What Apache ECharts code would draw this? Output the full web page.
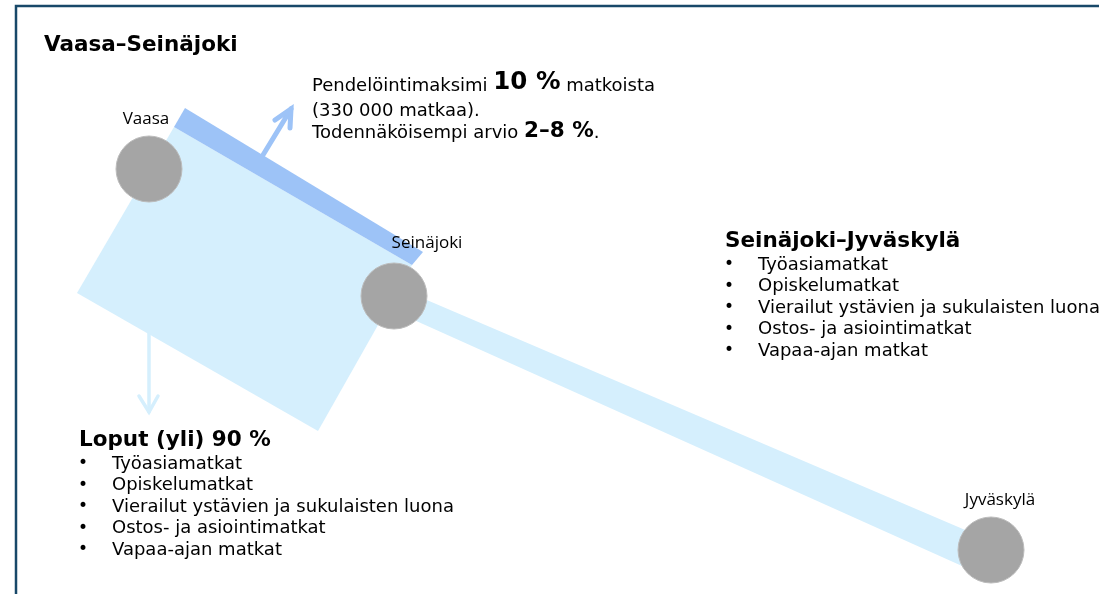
<!DOCTYPE html>
<html>
<head>
<meta charset="utf-8">
<script src="https://cdn.jsdelivr.net/npm/echarts@6/dist/echarts.min.js"></script>
<style>
html,body{margin:0;padding:0;background:#fff;}
#chart{width:1099px;height:594px;}
</style>
</head>
<body>
<div id="chart"></div>
<script>
// ---- data (diagram coordinates in axis units) ----
const cityNames = ['Vaasa', 'Seinäjoki', 'Jyväskylä'];
const cityX = [149, 394, 991];
const cityY = [169, 296, 550];

const catchmentX = [174, 412, 318, 77];
const catchmentY = [127, 265, 431, 293];
const commuteBandX = [185, 423, 412, 174];
const commuteBandY = [108, 252, 265, 127];
const roadX = [394, 991, 991, 394];
const roadY = [286, 541, 579, 311];

const upArrowX = [263, 291];
const upArrowY = [155, 109];
const upHeadX = [275, 291, 290];
const upHeadY = [120, 109, 128];
const downArrowX = [149, 149];
const downArrowY = [333, 412];
const downHeadX = [139, 149, 158];
const downHeadY = [396, 412, 396];

const titleText = 'Vaasa–Seinäjoki';
const noteLines = [
  ['Pendelöintimaksimi ', '10 %', ' matkoista'],
  ['(330 000 matkaa).'],
  ['Todennäköisempi arvio ', '2–8 %', '.']
];
const restHeading = 'Loput (yli) 90 %';
const sjHeading = 'Seinäjoki–Jyväskylä';
const tripTypes = ['Työasiamatkat', 'Opiskelumatkat', 'Vierailut ystävien ja sukulaisten luona', 'Ostos- ja asiointimatkat', 'Vapaa-ajan matkat'];

// ---- styles / layout ----
const LIGHT = '#d5effd';
const BAND = '#9dc3f7';
const CIRCLE = '#a5a5a5';
const FONT = 'DejaVu Sans';
const labelOffsets = [[-3, 0], [33, -3], [9, 0]];

function zip(xs, ys) { return xs.map((x, i) => [x, ys[i]]); }

function polygonSeries(xs, ys, color, z) {
  return {
    type: 'custom', coordinateSystem: 'cartesian2d', z: z, silent: true,
    data: [0],
    renderItem: function (params, api) {
      return {
        type: 'polygon',
        shape: { points: zip(xs, ys).map(p => api.coord(p)) },
        style: { fill: color }
      };
    }
  };
}

function arrowSeries(sx, sy, hx, hy, color, width, z) {
  return {
    type: 'custom', coordinateSystem: 'cartesian2d', z: z, silent: true,
    data: [0],
    renderItem: function (params, api) {
      return {
        type: 'group',
        children: [
          { type: 'polyline', shape: { points: zip(sx, sy).map(p => api.coord(p)) },
            style: { stroke: color, lineWidth: width, lineCap: 'round', fill: null } },
          { type: 'polyline', shape: { points: zip(hx, hy).map(p => api.coord(p)) },
            style: { stroke: color, lineWidth: width, lineCap: 'round', lineJoin: 'miter', fill: null } }
        ]
      };
    }
  };
}

const graphics = [];
// frame
graphics.push({ type: 'polyline', z: 1,
  shape: { points: [[16, 600], [16, 6], [1105, 6]] },
  style: { fill: null, stroke: '#184869', lineWidth: 2.5 } });
// title
graphics.push({ type: 'text', x: 44, y: 45, z: 20,
  style: { text: titleText, font: 'bold 21.5px "' + FONT + '"', fill: '#000', verticalAlign: 'middle' } });
// note lines
const noteY = [83, 108, 130];
noteLines.forEach((parts, i) => {
  let t = '';
  parts.forEach((p, j) => { t += (j % 2 === 1 ? '{b|' : '{n|') + p + '}'; });
  graphics.push({ type: 'text', x: 312, y: noteY[i], z: 20,
    style: { text: t, verticalAlign: 'middle', fill: '#000',
      rich: {
        n: { fontFamily: FONT, fontSize: 18, fill: '#000', verticalAlign: 'bottom', lineHeight: 24 },
        b: { fontFamily: FONT, fontSize: i === 0 ? 24.5 : 21.5, fontWeight: 'bold', fill: '#000', verticalAlign: 'bottom', lineHeight: 24 }
      } } });
});

function bulletBlock(x, headY, heading, items) {
  graphics.push({ type: 'text', x: x, y: headY, z: 20,
    style: { text: heading, font: 'bold 21.5px "' + FONT + '"', fill: '#000', verticalAlign: 'middle' } });
  items.forEach((it, i) => {
    const y = headY + 23.5 + i * 21.5;
    graphics.push({ type: 'text', x: x - 1, y: y, z: 20,
      style: { text: '•', font: '17px "' + FONT + '"', fill: '#000', verticalAlign: 'middle' } });
    graphics.push({ type: 'text', x: x + 33, y: y, z: 20,
      style: { text: it, font: '18px "' + FONT + '"', fill: '#000', verticalAlign: 'middle' } });
  });
}
bulletBlock(79, 440.5, restHeading, tripTypes);
bulletBlock(725, 241.5, sjHeading, tripTypes);

const option = {
  animation: false,
  backgroundColor: '#fff',
  grid: { left: 0, right: 0, top: 0, bottom: 0 },
  xAxis: { type: 'value', min: 0, max: 1099, show: false },
  yAxis: { type: 'value', min: 0, max: 594, inverse: true, show: false },
  series: [
    polygonSeries(catchmentX, catchmentY, LIGHT, 2),
    polygonSeries(commuteBandX, commuteBandY, BAND, 3),
    polygonSeries(roadX, roadY, LIGHT, 2),
    arrowSeries(upArrowX, upArrowY, upHeadX, upHeadY, BAND, 5, 4),
    arrowSeries(downArrowX, downArrowY, downHeadX, downHeadY, LIGHT, 3.5, 4),
    {
      type: 'scatter', z: 10, silent: true,
      symbol: 'circle', symbolSize: 66,
      itemStyle: { color: CIRCLE, borderColor: '#bcbcbc', borderWidth: 1, opacity: 1 },
      data: cityNames.map((n, i) => ({
        name: n, value: [cityX[i], cityY[i]],
        label: { offset: labelOffsets[i] }
      })),
      label: {
        show: true, position: 'top', distance: 8,
        formatter: '{b}', color: '#000',
        fontFamily: 'Open Sans', fontSize: 17
      }
    }
  ],
  graphic: graphics
};

const chart = echarts.init(document.getElementById('chart'), null, { renderer: 'canvas' });
chart.setOption(option);
</script>
</body>
</html>
